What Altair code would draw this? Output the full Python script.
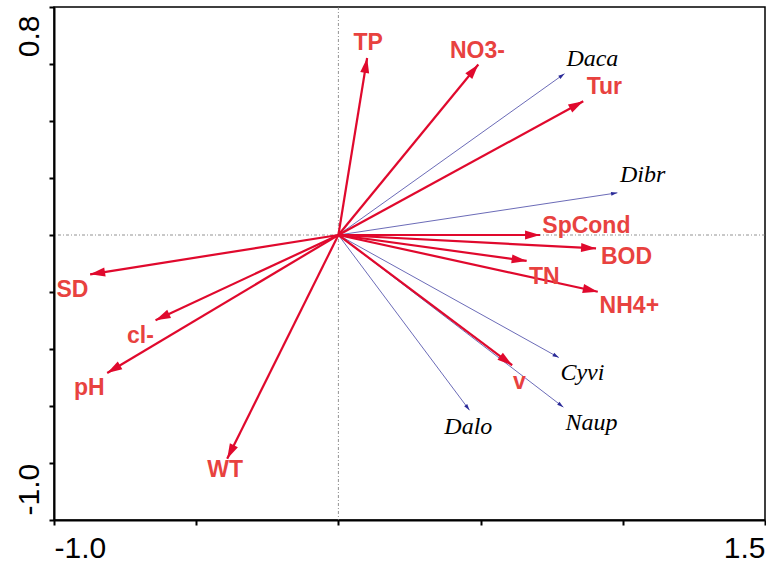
import math
import altair as alt
import pandas as pd

# Environmental variables: arrow tips (axis 1, axis 2) and label anchors
env_names = ["TP", "NO3-", "Tur", "SpCond", "BOD", "TN", "NH4+", "v", "SD", "cl-", "pH", "WT"]
env_x = [0.101, 0.492, 0.861, 0.709, 0.906, 0.662, 0.912, 0.611, -0.873, -0.643, -0.813, -0.391]
env_y = [0.621, 0.598, 0.469, 0.000, -0.047, -0.091, -0.199, -0.457, -0.138, -0.299, -0.484, -0.785]
env_lx = [0.105, 0.489, 0.935, 0.872, 1.013, 0.724, 1.023, 0.636, -0.935, -0.696, -0.876, -0.398]
env_ly = [0.672, 0.647, 0.520, 0.032, -0.077, -0.148, -0.250, -0.517, -0.193, -0.355, -0.538, -0.825]

# Species: arrow tips and label anchors
spp_names = ["Daca", "Dibr", "Cyvi", "Naup", "Dalo"]
spp_x = [0.795, 0.981, 0.775, 0.791, 0.461]
spp_y = [0.566, 0.148, -0.430, -0.604, -0.615]
spp_lx = [0.893, 1.070, 0.858, 0.890, 0.457]
spp_ly = [0.619, 0.209, -0.485, -0.661, -0.675]

x_ticks = [-1.0, -0.5, 0.0, 0.5, 1.0, 1.5]
y_ticks = [-1.0, -0.8, -0.6, -0.4, -0.2, 0.0, 0.2, 0.4, 0.6, 0.8]


def vectors(names, xs, ys, lxs, lys):
    df = pd.DataFrame({"name": names, "x": xs, "y": ys, "lx": lxs, "ly": lys})
    df["x0"] = 0.0
    df["y0"] = 0.0
    # symbol rotation (clockwise from up) so the arrowhead points along the vector
    df["ang"] = [(math.degrees(math.atan2(a, b)) + 360) % 360 for a, b in zip(xs, ys)]
    return df


env = vectors(env_names, env_x, env_y, env_lx, env_ly)
spp = vectors(spp_names, spp_x, spp_y, spp_lx, spp_ly)

xs = alt.Scale(domain=[-1.0, 1.5], nice=False, zero=False)
ys = alt.Scale(domain=[-1.0, 0.8], nice=False, zero=False)

x_axis = alt.Axis(
    values=x_ticks, grid=False, title=None,
    labelExpr="datum.value == -1 ? '-1.0' : datum.value == 1.5 ? '1.5' : ''",
    labelFlush=True, labelFont="Liberation Sans", labelFontSize=30, labelColor="#000",
    labelPadding=8, tickSize=5, tickWidth=2, tickColor="#000",
    domainColor="#000", domainWidth=2,
)
y_axis = alt.Axis(
    values=y_ticks, grid=False, title=None,
    labelExpr="datum.value == -1 ? '-1.0' : datum.value == 0.8 ? '0.8' : ''",
    labelAngle=270,
    labelAlign={"condition": {"test": "datum.value > 0", "value": "right"}, "value": "left"},
    labelBaseline="alphabetic",
    labelOffset={"condition": {"test": "datum.value > 0", "value": 8}, "value": -5},
    labelFont="Liberation Sans", labelFontSize=30, labelColor="#000",
    labelPadding=11, tickSize=5, tickWidth=2, tickColor="#000",
    domainColor="#000", domainWidth=2,
)

RED = "#E0092D"
RED_TXT = "#E8423F"
BLUE = "#2B2B98"
HEAD = "M0,0L-0.6,2L0.6,2Z"

base_x = alt.X("x:Q", scale=xs, axis=x_axis)
base_y = alt.Y("y:Q", scale=ys, axis=y_axis)

# dash-dot reference lines through the origin
origin = pd.DataFrame({"v": [0.0]})
hline = alt.Chart(origin).mark_rule(color="#777", strokeWidth=0.8, strokeDash=[3, 2, 1, 2]).encode(
    y=alt.Y("v:Q", scale=ys, axis=y_axis)
)
vline = alt.Chart(origin).mark_rule(color="#777", strokeWidth=0.8, strokeDash=[3, 2, 1, 2]).encode(
    x=alt.X("v:Q", scale=xs, axis=x_axis)
)

spp_lines = alt.Chart(spp).mark_rule(color=BLUE, strokeWidth=0.7).encode(
    x=alt.X("x0:Q", scale=xs, axis=x_axis), y=alt.Y("y0:Q", scale=ys, axis=y_axis), x2="x:Q", y2="y:Q"
)
spp_heads = alt.Chart(spp).mark_point(shape=HEAD, filled=True, color=BLUE, size=40, opacity=1).encode(
    x=base_x, y=base_y, angle=alt.Angle("ang:Q", scale=None)
)
spp_text = alt.Chart(spp).mark_text(
    font="Liberation Serif", fontStyle="italic", fontSize=24, color="#000", baseline="middle"
).encode(x=alt.X("lx:Q", scale=xs, axis=x_axis), y=alt.Y("ly:Q", scale=ys, axis=y_axis), text="name:N")

env_lines = alt.Chart(env).mark_rule(color=RED, strokeWidth=2.2).encode(
    x=alt.X("x0:Q", scale=xs, axis=x_axis), y=alt.Y("y0:Q", scale=ys, axis=y_axis), x2="x:Q", y2="y:Q"
)
env_heads = alt.Chart(env).mark_point(shape=HEAD, filled=True, color=RED, size=225, opacity=1).encode(
    x=base_x, y=base_y, angle=alt.Angle("ang:Q", scale=None)
)
env_text = alt.Chart(env).mark_text(
    font="Liberation Sans", fontWeight="bold", fontSize=23, color=RED_TXT, baseline="middle"
).encode(x=alt.X("lx:Q", scale=xs, axis=x_axis), y=alt.Y("ly:Q", scale=ys, axis=y_axis), text="name:N")

chart = alt.layer(
    hline, vline, spp_lines, spp_heads, spp_text, env_lines, env_heads, env_text
).properties(
    width=711, height=513,
    autosize=alt.AutoSizeParams(type="none"),
    padding={"left": 54, "top": 7, "right": 1, "bottom": 44},
    background="white",
).configure_view(stroke="#000", strokeWidth=1.5)

chart.save("out.html", embed_options={"renderer": "svg", "actions": False})
